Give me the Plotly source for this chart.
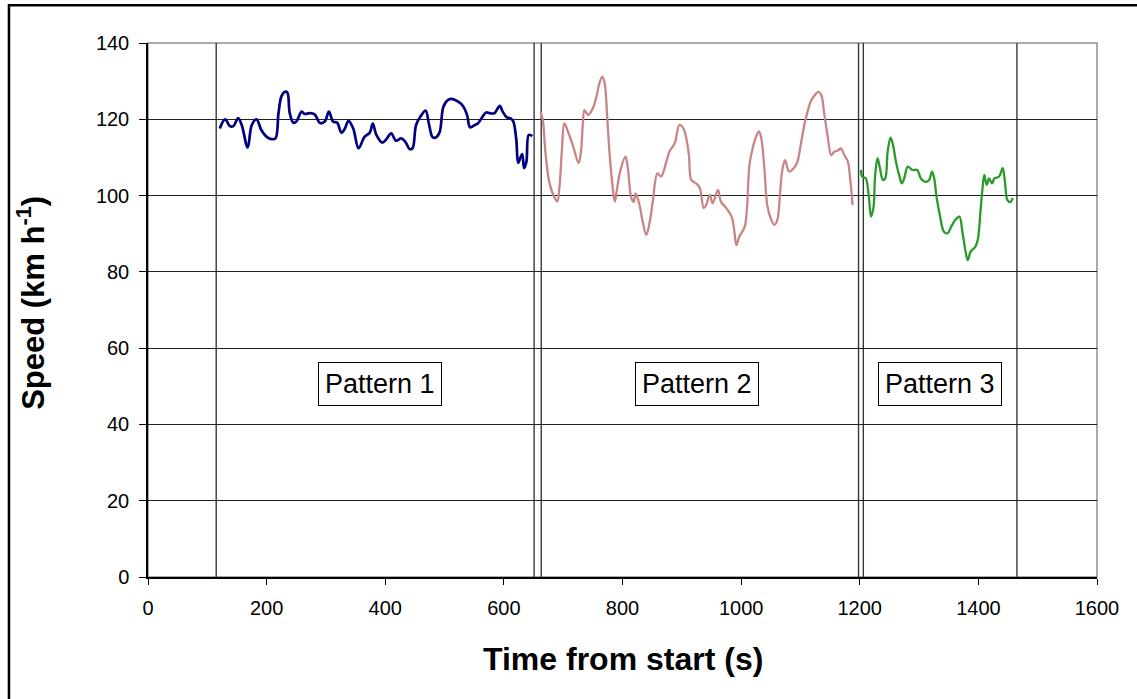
import plotly.graph_objects as go

# ---- data ----
p1_t = [121, 130, 138, 144, 152, 158, 168, 175, 183, 191, 200, 208, 215, 220, 225, 231, 235, 239, 245, 250,
        259, 264, 273, 281, 290, 298, 305, 312, 319, 326, 332, 338, 346, 355, 365, 374, 379, 385, 395, 402,
        410, 418, 427, 434, 441, 446, 452, 461, 468, 474, 480, 486, 492, 498, 506, 514, 523, 531, 538, 543,
        551, 556, 565, 570, 576, 584, 593, 598, 605, 612, 616, 621, 624, 628, 631, 634, 638, 642, 648]
p1_v = [117.6, 120.0, 118.2, 118.2, 120.3, 118.5, 112.6, 118.5, 120.0, 117.2, 115.4, 114.8, 115.0, 121.6, 126.0,
        127.2, 127.0, 121.6, 119.1, 119.4, 122.0, 121.4, 121.6, 121.3, 119.0, 119.4, 122.0, 119.4, 119.1, 116.5,
        117.6, 119.6, 117.6, 112.4, 115.4, 116.5, 118.9, 115.9, 113.9, 114.8, 116.3, 114.4, 115.0, 114.1, 112.2,
        112.4, 118.5, 121.1, 122.3, 118.5, 115.3, 115.3, 116.8, 123.3, 125.1, 125.3, 124.6, 123.5, 121.1, 117.9,
        118.5, 118.9, 120.9, 121.8, 121.6, 121.6, 123.5, 122.0, 120.5, 120.2, 119.4, 114.6, 108.6, 110.0, 110.9,
        107.2, 108.9, 115.9, 115.6]

p2_t = [662, 666, 670, 677, 686, 690, 694, 698, 702, 708, 716, 726, 730, 733, 736, 742, 750, 756, 761, 766,
        770, 774, 778, 783, 787, 790, 796, 805, 809, 815, 819, 822, 828, 834, 840, 846, 851, 859, 865, 874,
        879, 888, 896, 903, 907, 912, 916, 924, 930, 937, 941, 947, 952, 961, 966, 975, 984, 989, 992, 997,
        1006, 1010, 1014, 1020, 1025, 1030, 1034, 1039, 1044, 1050, 1056, 1061, 1066, 1070, 1074, 1081, 1090,
        1095, 1101, 1107, 1112, 1118, 1123, 1130, 1135, 1140, 1146, 1152, 1157, 1163, 1168, 1174, 1180, 1184, 1188]
p2_v = [122.0, 119.4, 111.5, 103.2, 99.3, 98.4, 102.8, 112.4, 118.9, 116.8, 113.3, 108.5, 111.5, 118.5, 122.4,
        121.1, 122.9, 125.9, 129.4, 131.2, 129.4, 121.1, 111.5, 102.8, 98.4, 101.0, 106.3, 110.2, 107.2, 99.3,
        98.4, 100.6, 98.0, 93.2, 89.7, 93.2, 98.4, 105.8, 105.0, 108.9, 111.5, 113.7, 118.5, 117.5, 115.4,
        110.6, 104.1, 103.2, 102.1, 96.7, 97.5, 100.2, 98.0, 101.5, 98.4, 96.7, 94.5, 90.1, 87.0, 89.2,
        91.8, 97.1, 108.0, 112.8, 115.4, 116.8, 115.0, 107.6, 97.5, 94.0, 92.3, 93.6, 101.5, 107.2, 109.3,
        106.3, 107.4, 108.9, 113.7, 118.9, 122.0, 124.9, 126.1, 127.2, 126.4, 121.6, 115.4, 110.6, 111.5,
        111.8, 112.4, 110.6, 108.9, 104.1, 97.5]

p3_t = [1202, 1204, 1210, 1215, 1219, 1223, 1226, 1230, 1234, 1239, 1243, 1247, 1252, 1256, 1261, 1267, 1271,
        1275, 1281, 1289, 1297, 1303, 1311, 1317, 1322, 1326, 1329, 1335, 1342, 1348, 1354, 1361, 1368, 1373,
        1378, 1382, 1387, 1395, 1399, 1404, 1407, 1410, 1414, 1418, 1423, 1427, 1435, 1441, 1445, 1449, 1454, 1458]
p3_v = [106.7, 105.0, 104.5, 100.2, 94.5, 96.7, 105.4, 109.8, 107.2, 104.1, 104.5, 111.5, 115.2, 113.3, 108.9,
        105.0, 103.2, 104.5, 107.6, 106.7, 106.7, 104.5, 103.6, 104.1, 106.3, 104.1, 100.2, 94.9, 90.5, 90.1,
        91.8, 93.6, 94.5, 90.5, 85.7, 83.1, 85.3, 86.6, 88.4, 96.7, 101.9, 105.4, 102.8, 104.5, 103.2, 104.5,
        105.0, 107.2, 103.2, 98.8, 98.3, 99.4]

boundaries = [115, 651, 663, 1198, 1206, 1465]
labels = ["Pattern 1", "Pattern 2", "Pattern 3"]
label_t = [391, 926, 1335]
label_v = [50.7, 50.7, 50.7]

x_ticks = [0, 200, 400, 600, 800, 1000, 1200, 1400, 1600]
y_ticks = [0, 20, 40, 60, 80, 100, 120, 140]

FONT = "Arial, Liberation Sans, sans-serif"

fig = go.Figure()
fig.add_trace(go.Scatter(x=p1_t, y=p1_v, mode="lines", line=dict(color="#000080", width=2.7),
                         line_shape="spline", showlegend=False))
fig.add_trace(go.Scatter(x=p2_t, y=p2_v, mode="lines", line=dict(color="#c98585", width=2.3),
                         line_shape="spline", showlegend=False))
fig.add_trace(go.Scatter(x=p3_t, y=p3_v, mode="lines", line=dict(color="#2a9a2a", width=2.3),
                         line_shape="spline", showlegend=False))

shapes = []
for b in boundaries:
    shapes.append(dict(type="line", xref="x", yref="y", x0=b, x1=b, y0=0, y1=140,
                       line=dict(color="#383838", width=1.4), layer="below"))
# plot area border (gray)
shapes.append(dict(type="rect", xref="paper", yref="paper", x0=0, x1=1, y0=0, y1=1,
                   line=dict(color="#909090", width=1.5), layer="below"))
# outer frame
shapes.append(dict(type="rect", xref="paper", yref="paper", x0=-0.1465, x1=1.2, y0=-0.6, y1=1.0705,
                   line=dict(color="black", width=2.5)))

annotations = []
for txt, tx, ty in zip(labels, label_t, label_v):
    annotations.append(dict(x=tx, y=ty, xref="x", yref="y", text=txt, showarrow=False,
                            font=dict(family=FONT, size=27, color="black"),
                            bgcolor="white", bordercolor="black", borderwidth=1, borderpad=6))
annotations.append(dict(x=0.5, y=-0.153, xref="paper", yref="paper", text="<b>Time from start (s)</b>",
                        showarrow=False, yanchor="middle", font=dict(family=FONT, size=32, color="black")))
annotations.append(dict(x=-0.1235, y=0.513, xref="paper", yref="paper", text="<b>Speed (km h<sup>-1</sup>)</b>",
                        showarrow=False, textangle=-90, xanchor="center", yanchor="middle",
                        font=dict(family=FONT, size=31, color="black")))

fig.update_layout(
    width=1137, height=699,
    margin=dict(l=148, r=40, t=43, b=122),
    paper_bgcolor="white", plot_bgcolor="white",
    shapes=shapes, annotations=annotations,
    xaxis=dict(range=[0, 1600], tickvals=x_ticks, ticktext=[str(v) for v in x_ticks],
               showgrid=False, zeroline=False, showline=True, linecolor="black", linewidth=1.5,
               ticks="outside", ticklen=6, tickcolor="black", tickwidth=1, ticklabelstandoff=6,
               tickfont=dict(family=FONT, size=20, color="black")),
    yaxis=dict(range=[0, 140], tickvals=y_ticks, ticktext=[str(v) for v in y_ticks],
               showgrid=True, gridcolor="#202020", gridwidth=1, zeroline=False,
               showline=True, linecolor="black", linewidth=1.5,
               ticks="outside", ticklen=7, tickcolor="black", tickwidth=1, ticklabelstandoff=6,
               tickfont=dict(family=FONT, size=20, color="black")),
)

fig.write_html("out.html")
